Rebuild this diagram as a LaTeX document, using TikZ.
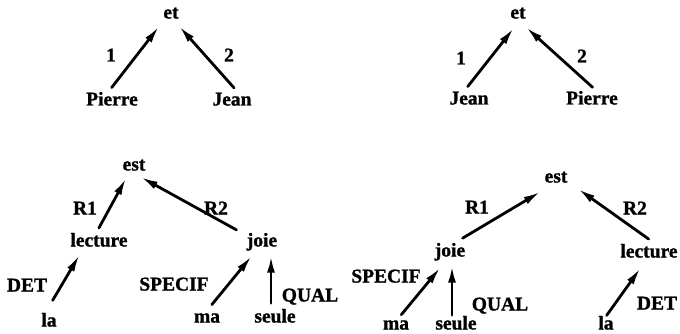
\documentclass[tikz,border=0pt]{standalone}
\usepackage{fontspec}
\setmainfont{Liberation Serif}[BoldFeatures={FakeBold=1.2}]
\usetikzlibrary{arrows.meta}

\begin{document}
\begin{tikzpicture}[x=1pt,y=-1pt,line cap=round,line join=round,
  word/.style={font=\fontsize{19.5}{21}\selectfont\bfseries,inner sep=0pt,text height=13pt,text depth=4pt},
  rel/.style={line width=2.8pt,-{Latex[length=17pt,width=8pt]},shorten <=6pt,shorten >=5pt}]
\useasboundingbox (0,0) rectangle (680,334);

% et (Pierre, Jean)
\node[word] (et1) at (171,14) {et};
\node[word] (pierre1) at (112,101) {Pierre};
\node[word] (jean1) at (232,101) {Jean};
\node[word] at (111,57) {1};
\node[word] at (229,57) {2};
\draw[rel] ([xshift=-4pt]pierre1.north) -- ([xshift=-9pt]et1.south);
\draw[rel] ([xshift=6pt]jean1.north) -- ([xshift=5pt]et1.south);

% et (Jean, Pierre)
\node[word] (et2) at (518,14) {et};
\node[word] (jean2) at (469,100) {Jean};
\node[word] (pierre2) at (592,100) {Pierre};
\node[word] at (461,60) {1};
\node[word] at (582,58) {2};
\draw[rel,shorten >=7pt] ([xshift=-5pt]jean2.north) -- (et2.south);
\draw[rel,shorten >=7pt] ([xshift=5pt]pierre2.north) -- ([xshift=3pt]et2.south);

% la lecture est ma seule joie
\node[word] (est1) at (134,166) {est};
\node[word] (lecture1) at (99,242) {lecture};
\node[word] (joie1) at (262,242) {joie};
\node[word] (la1) at (49,322) {la};
\node[word] (ma1) at (207,318) {ma};
\node[word] (seule1) at (275,318) {seule};
\node[word] at (85,210) {R1};
\node[word] at (216,210) {R2};
\node[word] at (27,287) {DET};
\node[word] at (174,286) {SPECIF};
\node[word] at (310,297) {QUAL};
\draw[rel,shorten >=4pt] ([xshift=-3pt]lecture1.north) -- ([xshift=-6pt]est1.south);
\draw[rel,shorten <=7pt] ([xshift=-4pt]joie1.north west) -- ([xshift=2.5pt]est1.south);
\draw[rel,shorten <=15pt] ([xshift=-4pt]la1.north) -- ([xshift=-17pt]lecture1.south);
\draw[rel,shorten >=7pt] ([xshift=1pt]ma1.north) -- ([xshift=-6pt]joie1.south);
\draw[rel,shorten <=6pt] ([xshift=-4pt]seule1.north) -- ([xshift=9pt]joie1.south);

% ma seule joie est la lecture
\node[word] (est2) at (556,178) {est};
\node[word] (joie2) at (450,252) {joie};
\node[word] (lecture2) at (649,253) {lecture};
\node[word] (ma2) at (396,325) {ma};
\node[word] (seule2) at (456,325) {seule};
\node[word] (la2) at (606,325) {la};
\node[word] at (477,209) {R1};
\node[word] at (635,210) {R2};
\node[word] at (386,278) {SPECIF};
\node[word] at (500,306) {QUAL};
\node[word] at (657,305) {DET};
\draw[rel,shorten <=10pt,shorten >=10pt] ([xshift=4pt]joie2.north) -- ([xshift=-7pt]est2.south);
\draw[rel,shorten <=9pt,shorten >=4pt] ([xshift=7pt]lecture2.north) -- ([xshift=19pt]est2.south);
\draw[rel,shorten <=2pt,shorten >=9pt] ([xshift=4pt]ma2.north) -- ([xshift=-4pt]joie2.south);
\draw[rel,shorten <=1pt] ([xshift=-4pt]seule2.north) -- ([xshift=2pt]joie2.south);
\draw[rel,shorten <=1pt,shorten >=8pt] (la2.north) -- ([xshift=-4pt]lecture2.south);
\end{tikzpicture}
\end{document}
